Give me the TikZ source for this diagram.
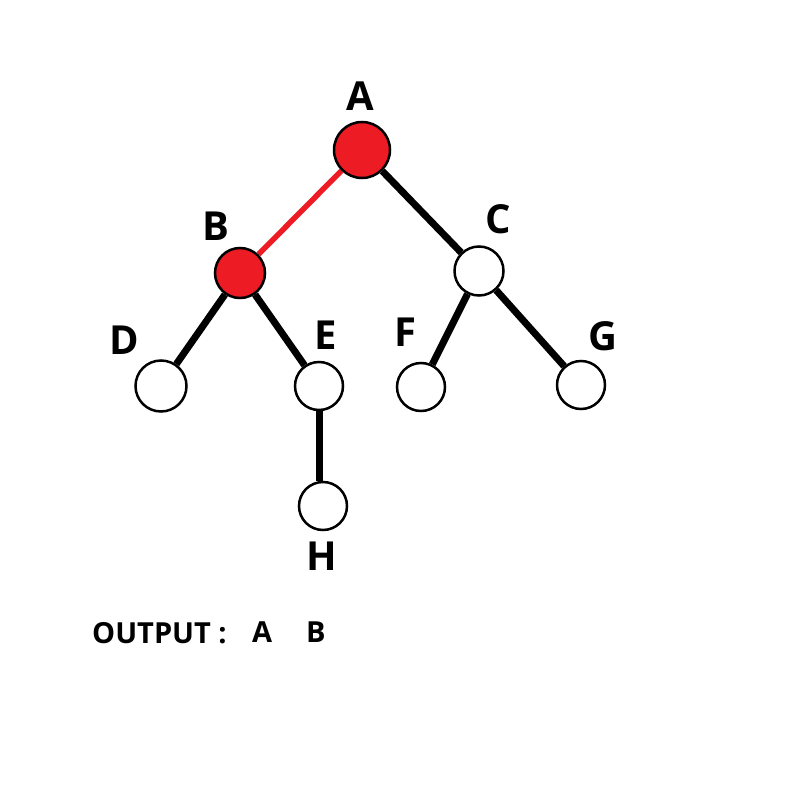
\documentclass[tikz,border=0pt]{standalone}
\usepackage{fontspec}
\usetikzlibrary{backgrounds}
\setmainfont{Open Sans}
\definecolor{visitred}{HTML}{ED1C24}
\begin{document}
\begin{tikzpicture}[x=1pt,y=-1pt,
  vertex/.style={circle,draw=black,line width=2.5pt,fill=white,inner sep=0pt,minimum size=#1},
  vertex/.default=48pt,
  visited/.style={fill=visitred},
  edge/.style={line width=7pt,black},
  hit/.style={line width=5.5pt,visitred},
  lbl/.style={font=\fontsize{40}{40}\selectfont\bfseries,inner sep=0pt},
  outtxt/.style={font=\fontsize{29}{29}\selectfont\bfseries,inner sep=0pt,anchor=west}]
  \useasboundingbox (0,0) rectangle (800,800);
  % tree vertices
  \node[vertex=56pt,visited] (A) at (362,150) {};
  \node[vertex=50pt,visited] (B) at (240,273) {};
  \node[vertex=49pt] (C) at (479,271) {};
  \node[vertex=51pt] (D) at (161,386) {};
  \node[vertex] (E) at (319,386) {};
  \node[vertex] (F) at (421,387) {};
  \node[vertex] (G) at (581,385) {};
  \node[vertex] (H) at (323,506) {};
  % edges, drawn beneath the vertices
  \begin{scope}[on background layer]
    \draw[hit] (A) -- (B);
    \draw[edge] (A) -- (C);
    \draw[edge] (B) -- (D);
    \draw[edge] (B) -- (E);
    \draw[edge] (C) -- (F);
    \draw[edge] (C) -- (G);
    \draw[edge] (E.south) -- (E.south |- H.north);
  \end{scope}
  % vertex labels
  \node[lbl] (la) at (360,96) {A};
  \node[lbl] (lb) at (216,226) {B};
  \node[lbl] (lc) at (498,219) {C};
  \node[lbl] (ld) at (124,340) {D};
  \node[lbl] (le) at (326,335) {E};
  \node[lbl] (lf) at (405,332) {F};
  \node[lbl] (lg) at (603,336) {G};
  \node[lbl] (lh) at (322,556) {H};
  % traversal output
  \node[outtxt] (out) at (92,633) {OUTPUT :};
  \node[outtxt] (oa) at (252,632) {A};
  \node[outtxt] (ob) at (306,632) {B};
\end{tikzpicture}
\end{document}
